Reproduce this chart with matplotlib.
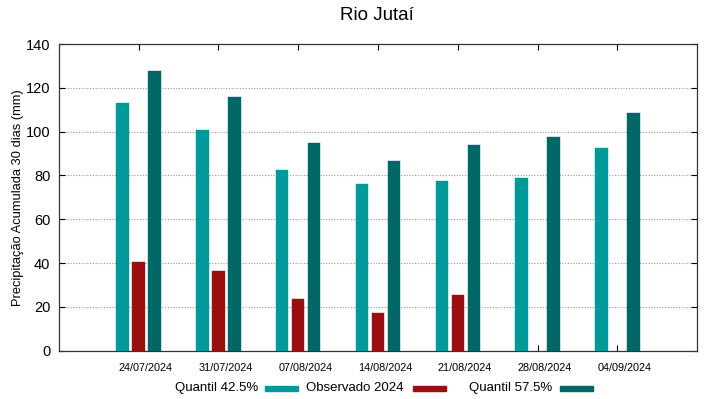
import numpy as np
import matplotlib
matplotlib.use("Agg")
import matplotlib.pyplot as plt
from matplotlib.patches import Rectangle

plt.rcParams['font.family'] = ['Liberation Sans', 'DejaVu Sans']

dates = ["24/07/2024", "31/07/2024", "07/08/2024", "14/08/2024",
         "21/08/2024", "28/08/2024", "04/09/2024"]
q425 = [113.0, 100.7, 82.5, 76.0, 77.3, 78.9, 92.7]
obs2024 = [40.5, 36.2, 23.4, 17.2, 25.6, np.nan, np.nan]
q575 = [127.9, 115.6, 94.8, 86.4, 93.8, 97.7, 108.6]

series_names = ["Quantil 42.5%", "Observado 2024", "Quantil 57.5%"]
colors = ["#009999", "#990f0f", "#006666"]
title = "Rio Jutaí"
ylabel = "Precipitação Acumulada 30 dias (mm)"
yticks = [0, 20, 40, 60, 80, 100, 120, 140]

fig = plt.figure(figsize=(7.19, 3.99), dpi=100)
W, H = 719, 399
ax = fig.add_axes([58.7 / W, 1 - 350.7 / H, (697.3 - 58.7) / W, (350.7 - 44) / H])

x = np.arange(len(dates))
off = 0.2
bw = 0.155
for vals, dx, c in zip([q425, obs2024, q575], [-off, 0, off], colors):
    ax.bar(x + dx, vals, width=bw, color=c, zorder=3, edgecolor=c, linewidth=0.3)

ax.set_xlim(-1, 7)
ax.set_ylim(0, 140)
ax.set_yticks(yticks)
ax.set_xticks(x)
ax.set_xticklabels([])
# labels sit slightly right of the tick marks, as in the gnuplot original
ax.set_xticks(x + 0.088, minor=True)
ax.set_xticklabels(dates, minor=True, fontsize=7.8)
ax.tick_params(axis='x', which='minor', length=0, pad=9)
ax.tick_params(axis='x', which='major', direction='in', top=True, length=4, width=0.8)
ax.tick_params(axis='y', direction='in', right=True, length=4, pad=6, labelsize=10.5, width=0.8)
for s in ax.spines.values():
    s.set_linewidth(0.9)
    s.set_color("#333333")
for yv in yticks[1:-1]:
    ax.axhline(yv, color="#999999", linestyle=(0, (1, 1.5)), linewidth=0.8, zorder=1)

ax.set_ylabel(ylabel, fontsize=9.3, labelpad=1)
fig.text(377 / W, 1 - 16 / H, title, ha='center', va='center', fontsize=13.5)

# legend (gnuplot style: text then sample)
leg_y = 388
text_right = [258, 403, 552]
samp_x = [265, 413, 560]
samp_w = 33
samp_h = 5
for name, c, tr, sx in zip(series_names, colors, text_right, samp_x):
    fig.text(tr / W, 1 - leg_y / H, name, ha='right', va='center', fontsize=9.5)
    fig.patches.append(Rectangle((sx / W, 1 - (leg_y + samp_h / 2) / H), samp_w / W, samp_h / H,
                                 transform=fig.transFigure, figure=fig, color=c))

fig.savefig("out.png", dpi=100)
